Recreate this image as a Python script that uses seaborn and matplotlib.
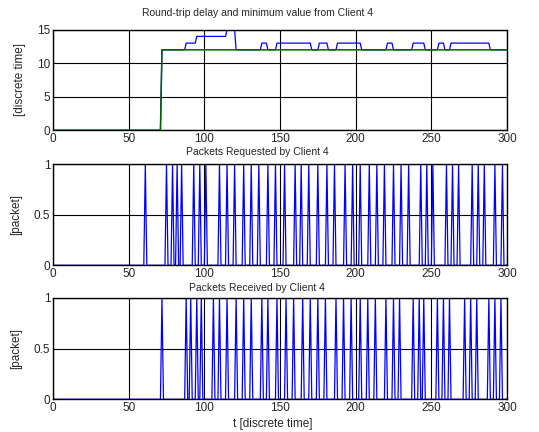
import numpy as np
import pandas as pd
import matplotlib
matplotlib.use("Agg")
import matplotlib.pyplot as plt
import seaborn as sns

# ==========================
# Data
# ==========================

# round-trip delay: level changes (time, new value)
delay_t = [0, 72, 88, 95, 115, 121, 138, 142, 148, 171, 176, 182, 188, 204,
           221, 225, 238, 246, 255, 259, 263, 289]
delay_v = [0, 12, 13, 14, 15, 12, 13, 12, 13, 12, 13, 12, 13, 12,
           13, 12, 13, 12, 13, 12, 13, 12]

# minimum delay value
min_t = [0, 72]
min_v = [0, 12]

# times of packets requested by client 4
requested_t = [61, 75, 79, 82, 85, 93, 97, 101, 110, 115, 120, 126, 131, 136,
               142, 147, 153, 160, 164, 169, 175, 181, 186, 193, 198, 203, 209,
               214, 219, 225, 230, 235, 243, 247, 251, 260, 264, 268, 277, 281,
               285, 292, 297]

# times of packets received by client 4
received_t = [72, 88, 91, 95, 98, 106, 110, 115, 121, 126, 131, 138, 142, 148,
              154, 159, 165, 170, 175, 180, 187, 192, 197, 203, 208, 213, 220,
              225, 229, 238, 242, 245, 254, 258, 262, 272, 276, 280, 288, 292,
              296]

x_ticks = [0, 50, 100, 150, 200, 250, 300]

t = np.arange(0, 301)


def steps(times, values):
    out = np.zeros(len(t))
    for tt, vv in zip(times, values):
        out[t >= tt] = vv
    return out


def spikes(times):
    out = np.zeros(len(t))
    out[np.isin(t, times)] = 1
    return out


df = pd.DataFrame({
    "t": t,
    "delay": steps(delay_t, delay_v),
    "min": steps(min_t, min_v),
    "requested": spikes(requested_t),
    "received": spikes(received_t),
})

# ==========================
# Plot
# ==========================

sns.set_style("white")
plt.rcParams["font.family"] = ["Liberation Sans", "DejaVu Sans"]
plt.rcParams["font.size"] = 8

fig = plt.figure(figsize=(5.39, 4.32), dpi=100)

left, width = 53 / 539, 454 / 539
ax1 = fig.add_axes([left, 1 - 130.3 / 432, width, 100.6 / 432])
ax2 = fig.add_axes([left, 1 - 265.3 / 432, width, 101 / 432])
ax3 = fig.add_axes([left, 1 - 399.3 / 432, width, 101.6 / 432])

sns.lineplot(data=df, x="t", y="delay", color="#0000ff", lw=0.9, ax=ax1, zorder=2)
sns.lineplot(data=df, x="t", y="min", color="#006400", lw=1.1, ax=ax1, zorder=3)
sns.lineplot(data=df, x="t", y="requested", color="#0000ff", lw=0.9, ax=ax2)
sns.lineplot(data=df, x="t", y="received", color="#0000ff", lw=0.9, ax=ax3)

titles = ["Round-trip delay and minimum value from Client 4",
          "Packets Requested by Client 4",
          "Packets Received by Client 4"]
title_pads = [10, 7, 5]
ylabels = ["[discrete time]", "[packet]", "[packet]"]

for ax, title, pad, ylab in zip([ax1, ax2, ax3], titles, title_pads, ylabels):
    ax.set_xlim(0, 300)
    ax.set_xticks(x_ticks)
    ax.set_title(title, fontsize=7.5, pad=pad, x=0.45)
    ax.set_ylabel(ylab, fontsize=8.5, labelpad=8)
    ax.set_xlabel("")
    ax.grid(True, color="black", lw=0.8)
    ax.set_axisbelow(True)
    ax.tick_params(direction="in", length=3, labelsize=8.5, pad=2)
    for s in ax.spines.values():
        s.set_color("black")
        s.set_linewidth(1)

ax1.set_ylim(0, 15)
ax1.set_yticks([0, 5, 10, 15])
for ax in [ax2, ax3]:
    ax.set_ylim(0, 1)
    ax.set_yticks([0, 0.5, 1])
    ax.set_yticklabels(["0", "0.5", "1"])

ax3.set_xlabel("t [discrete time]", fontsize=8.5, labelpad=3, x=0.485)

plt.savefig("out.png", dpi=100)
